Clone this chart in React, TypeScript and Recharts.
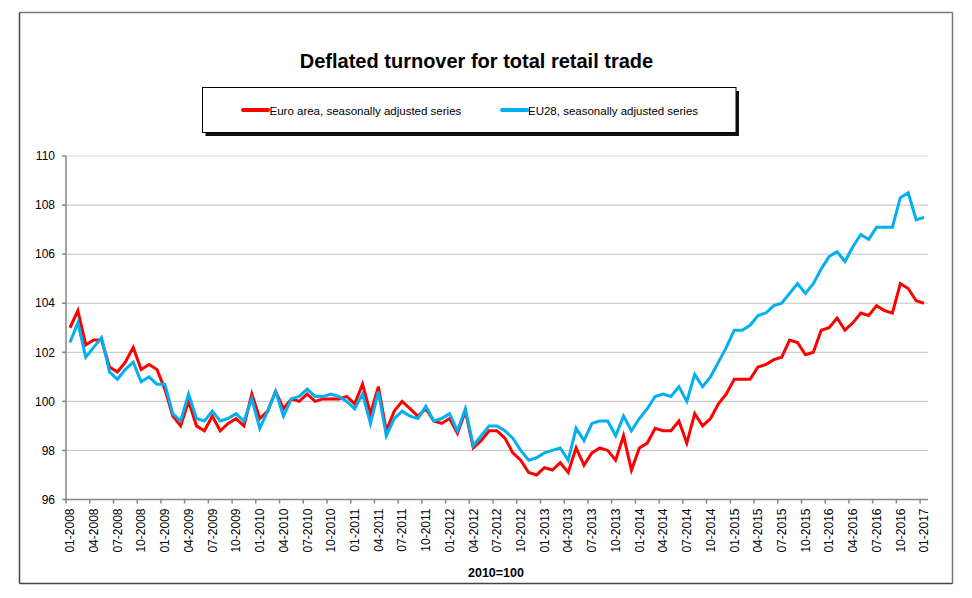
import React from 'react';
import { LineChart, Line, XAxis, YAxis, CartesianGrid, ReferenceLine } from 'recharts';

// Monthly index values, 01-2008 .. 01-2017 (2010=100)
const euroArea = [
  103.0, 103.7, 102.3, 102.5, 102.5, 101.4, 101.2, 101.6, 102.2, 101.3, 101.5, 101.3,
  100.5, 99.4, 99.0, 100.0, 99.0, 98.8, 99.4, 98.8, 99.1, 99.3, 99.0, 100.3,
  99.3, 99.6, 100.4, 99.7, 100.1, 100.0, 100.3, 100.0, 100.1, 100.1, 100.1, 100.2,
  99.9, 100.7, 99.5, 100.6, 98.8, 99.6, 100.0, 99.7, 99.4, 99.7, 99.2, 99.1,
  99.3, 98.7, 99.6, 98.1, 98.4, 98.8, 98.8, 98.5, 97.9, 97.6, 97.1, 97.0,
  97.3, 97.2, 97.5, 97.1, 98.1, 97.4, 97.9, 98.1, 98.0, 97.6, 98.6, 97.2,
  98.1, 98.3, 98.9, 98.8, 98.8, 99.2, 98.3, 99.5, 99.0, 99.3, 99.9, 100.3,
  100.9, 100.9, 100.9, 101.4, 101.5, 101.7, 101.8, 102.5, 102.4, 101.9, 102.0, 102.9,
  103.0, 103.4, 102.9, 103.2, 103.6, 103.5, 103.9, 103.7, 103.6, 104.8, 104.6, 104.1,
  104.0,
];

const eu28 = [
  102.4, 103.2, 101.8, 102.2, 102.6, 101.2, 100.9, 101.3, 101.6, 100.8, 101.0, 100.7,
  100.7, 99.5, 99.2, 100.3, 99.3, 99.2, 99.6, 99.2, 99.3, 99.5, 99.2, 100.1,
  98.9, 99.6, 100.4, 99.4, 100.1, 100.2, 100.5, 100.2, 100.2, 100.3, 100.2, 100.0,
  99.7, 100.3, 99.1, 100.4, 98.6, 99.3, 99.6, 99.4, 99.3, 99.8, 99.2, 99.3,
  99.5, 98.8, 99.7, 98.2, 98.6, 99.0, 99.0, 98.8, 98.5, 98.0, 97.6, 97.7,
  97.9, 98.0, 98.1, 97.6, 98.9, 98.4, 99.1, 99.2, 99.2, 98.6, 99.4, 98.8,
  99.3, 99.7, 100.2, 100.3, 100.2, 100.6, 100.0, 101.1, 100.6, 101.0, 101.6, 102.2,
  102.9, 102.9, 103.1, 103.5, 103.6, 103.9, 104.0, 104.4, 104.8, 104.4, 104.8, 105.4,
  105.9, 106.1, 105.7, 106.3, 106.8, 106.6, 107.1, 107.1, 107.1, 108.3, 108.5, 107.4,
  107.5,
];

const yTicks = [96, 98, 100, 102, 104, 106, 108, 110];

// month labels "MM-YYYY"
const months: string[] = [];
for (let y = 2008; y <= 2017; y++) {
  for (let m = 1; m <= 12; m++) {
    if (y === 2017 && m > 1) break;
    months.push(`${String(m).padStart(2, '0')}-${y}`);
  }
}

const data = months.map((month, i) => ({
  month,
  euro: euroArea[i],
  eu28: eu28[i],
}));

const FONT = '"Liberation Sans", Arial, sans-serif';
const PLOT_LEFT = 66;
const PLOT_RIGHT = 928;
const HALF = (PLOT_RIGHT - PLOT_LEFT) / months.length / 2;

// tick mark sits on the category boundary, label on the category centre
const MonthTick = ({ x, y, payload }: any) => (
  <g>
    <line x1={x - HALF} x2={x - HALF} y1={y} y2={y + 4} stroke="#868686" strokeWidth={1.5} />
    <text
      x={x + 4.3}
      y={y + 9}
      transform={`rotate(-90, ${x + 4.3}, ${y + 9})`}
      textAnchor="end"
      fontSize={12}
      fill="#000"
    >
      {payload.value}
    </text>
  </g>
);

const Decor = () => (
  <svg width={972} height={598} style={{ position: 'absolute', left: 0, top: 0 }}>
    {/* outer frame */}
    <line x1={19.5} y1={12.5} x2={952.5} y2={12.5} stroke="#7a7a7a" strokeWidth={1.5} />
    <line x1={952.5} y1={12.5} x2={952.5} y2={583.5} stroke="#7a7a7a" strokeWidth={1.5} />
    <line x1={19.5} y1={12.5} x2={19.5} y2={583.5} stroke="#444" strokeWidth={1.5} />
    <line x1={19.5} y1={583.5} x2={952.5} y2={583.5} stroke="#444" strokeWidth={1.5} />

    <text x={476.5} y={68.3} textAnchor="middle" fontSize={20} fontWeight="bold" fontFamily={FONT}>
      Deflated turnover for total retail trade
    </text>

    {/* legend box with shadow */}
    <rect x={205.5} y={91} width={533.5} height={45} fill="#111" />
    <rect x={202.5} y={87.5} width={533.5} height={45} fill="#fff" stroke="#000" strokeWidth={1} />
    <line x1={243} y1={110} x2={268} y2={110} stroke="#ff0000" strokeWidth={4} strokeLinecap="round" />
    <text x={269.5} y={114.5} fontSize={11.5} fontFamily={FONT}>
      Euro area, seasonally adjusted series
    </text>
    <line x1={502} y1={110} x2={527} y2={110} stroke="#00b0f0" strokeWidth={4} strokeLinecap="round" />
    <text x={528} y={114.5} fontSize={11.5} fontFamily={FONT}>
      EU28, seasonally adjusted series
    </text>

    <text x={496} y={576.7} textAnchor="middle" fontSize={12.5} fontWeight="bold" fontFamily={FONT}>
      2010=100
    </text>
  </svg>
);

export default function App() {
  return (
    <div
      style={{
        position: 'absolute',
        left: 0,
        top: 0,
        width: 972,
        height: 598,
        background: '#fff',
        fontFamily: FONT,
      }}
    >
      <Decor />
      <div style={{ position: 'absolute', left: 0, top: 0 }}>
        <LineChart
          width={972}
          height={598}
          data={data}
          margin={{ top: 156, right: 972 - PLOT_RIGHT, bottom: 38.5, left: 0 }}
        >
          <CartesianGrid vertical={false} stroke="#c0c0c0" strokeWidth={1} />
          <ReferenceLine y={110} stroke="#ececec" strokeWidth={2} />
          <XAxis
            dataKey="month"
            interval={2}
            height={60}
            padding={{ left: HALF, right: HALF }}
            tick={<MonthTick />}
            tickLine={false}
            tickSize={0}
            tickMargin={0}
            axisLine={{ stroke: '#868686', strokeWidth: 1.5 }}
          />
          <YAxis
            width={PLOT_LEFT}
            domain={[96, 110]}
            ticks={yTicks}
            interval={0}
            tickSize={4}
            tickMargin={7}
            tick={{ fill: '#000', fontSize: 12 }}
            tickLine={{ stroke: '#868686', strokeWidth: 1.5 }}
            axisLine={{ stroke: '#868686', strokeWidth: 1.5 }}
          />
          <Line
            type="linear"
            dataKey="euro"
            stroke="#ff0000"
            strokeWidth={3}
            dot={false}
            isAnimationActive={false}
          />
          <Line
            type="linear"
            dataKey="eu28"
            stroke="#00b0f0"
            strokeWidth={3}
            dot={false}
            isAnimationActive={false}
          />
        </LineChart>
      </div>
    </div>
  );
}
